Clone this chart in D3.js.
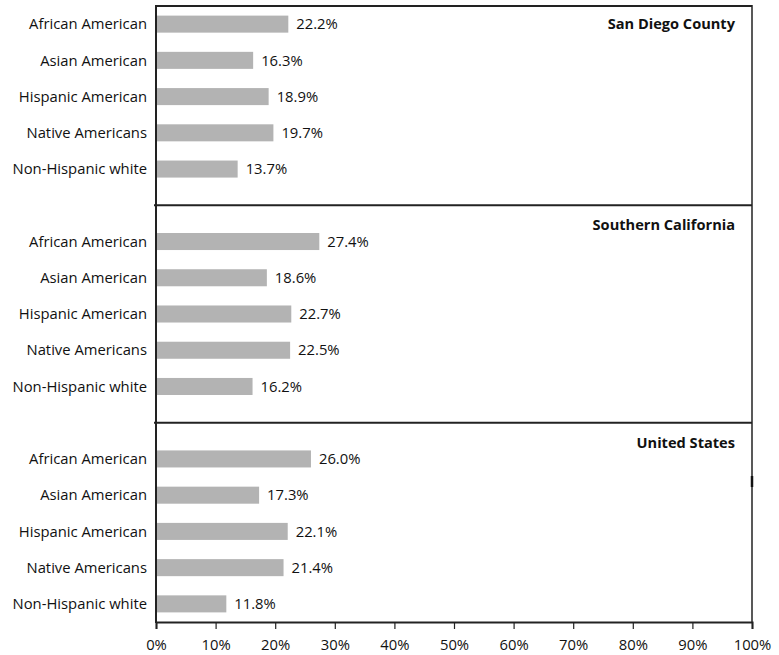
<!DOCTYPE html>
<html>
<head>
<meta charset="utf-8">
<script src="https://cdn.jsdelivr.net/npm/d3@7"></script>
<style>
  body { margin: 0; background: #fff; }
  text { font-family: "Open Sans", sans-serif; fill: #111; }
</style>
</head>
<body>
<svg id="canvas" width="779" height="655"></svg>
<script>
let groups = ["San Diego County", "Southern California", "United States"]
let categories = ["African American", "Asian American", "Hispanic American", "Native Americans", "Non-Hispanic white"]
let sanDiego = [22.2, 16.3, 18.9, 19.7, 13.7]
let southernCal = [27.4, 18.6, 22.7, 22.5, 16.2]
let unitedStates = [26.0, 17.3, 22.1, 21.4, 11.8]
let ticks = [0, 10, 20, 30, 40, 50, 60, 70, 80, 90, 100]

let series = [sanDiego, southernCal, unitedStates]

let canvas = d3.select("#canvas")

let plotLeft = 156, plotRight = 752, plotTop = 6, plotBottom = 622
// 17 row steps: 5 + 0.5 | 0.5 + 5 + 0.5 | 0.5 + 5
let step = (plotBottom - plotTop) / 17
let fontSize = "14.8px"

let x = d3.scaleLinear().domain([0, 100]).range([plotLeft, plotRight])

let panelTop = [plotTop, plotTop + step * 5.5, plotTop + step * 11.5]
let rowStart = [plotTop, plotTop + step * 6, plotTop + step * 12]

series.forEach((values, p) => {
    let y = d3.scaleBand()
        .domain(categories)
        .range([rowStart[p], rowStart[p] + step * 5])
        .paddingInner(0.53)
        .paddingOuter(0.265)

    let g = canvas.append("g")

    g.selectAll("rect")
        .data(values)
        .enter()
        .append("rect")
        .attr("x", x(0))
        .attr("y", (d, i) => y(categories[i]))
        .attr("width", (d) => x(d) - x(0))
        .attr("height", y.bandwidth())
        .attr("fill", "#b3b3b3")

    g.selectAll(".val")
        .data(values)
        .enter()
        .append("text")
        .attr("class", "val")
        .attr("x", (d) => x(d) + 8)
        .attr("y", (d, i) => y(categories[i]) + y.bandwidth() / 2)
        .attr("dy", "0.35em")
        .style("font-size", fontSize)
        .text((d) => d.toFixed(1) + "%")

    g.selectAll(".cat")
        .data(categories)
        .enter()
        .append("text")
        .attr("class", "cat")
        .attr("x", plotLeft - 9)
        .attr("y", (d) => y(d) + y.bandwidth() / 2)
        .attr("dy", "0.35em")
        .attr("text-anchor", "end")
        .style("font-size", fontSize)
        .text((d) => d)

    // panel title
    let ty = p === 0 ? y(categories[0]) + y.bandwidth() / 2 : panelTop[p] + step * 0.55
    g.append("text")
        .attr("x", plotRight - 17)
        .attr("y", ty)
        .attr("dy", "0.35em")
        .attr("text-anchor", "end")
        .style("font-size", "14.6px")
        .style("font-weight", "bold")
        .text(groups[p])

    // divider
    if (p > 0) {
        g.append("line")
            .attr("x1", plotLeft - 2).attr("x2", plotRight)
            .attr("y1", panelTop[p]).attr("y2", panelTop[p])
            .attr("stroke", "#222").attr("stroke-width", 2)
    }
})

// frame
canvas.append("line")
    .attr("x1", plotLeft).attr("x2", plotRight).attr("y1", plotTop).attr("y2", plotTop)
    .attr("stroke", "#222").attr("stroke-width", 2)
canvas.append("line")
    .attr("x1", plotRight).attr("x2", plotRight).attr("y1", plotTop - 1).attr("y2", plotBottom)
    .attr("stroke", "#222").attr("stroke-width", 1.5)
canvas.append("line")
    .attr("x1", plotRight).attr("x2", plotRight).attr("y1", 476).attr("y2", 487)
    .attr("stroke", "#111").attr("stroke-width", 2.5)
canvas.append("line")
    .attr("x1", plotLeft).attr("x2", plotLeft).attr("y1", plotTop - 1).attr("y2", plotBottom + 1)
    .attr("stroke", "#222").attr("stroke-width", 2)

// x axis
let xAxis = d3.axisBottom(x)
    .tickValues(ticks)
    .tickSize(7)
    .tickFormat((d) => d + "%")

let axisG = canvas.append("g")
    .attr("transform", "translate(0," + plotBottom + ")")
    .call(xAxis)

axisG.select(".domain").attr("stroke", "#222").attr("stroke-width", 2)
axisG.selectAll(".tick line").attr("stroke", "#222").attr("stroke-width", 1.2)
axisG.selectAll(".tick text")
    .style("font-family", "Open Sans, sans-serif")
    .style("font-size", fontSize)
    .attr("fill", "#111")
    .attr("dy", "1.2em")
</script>
</body>
</html>
